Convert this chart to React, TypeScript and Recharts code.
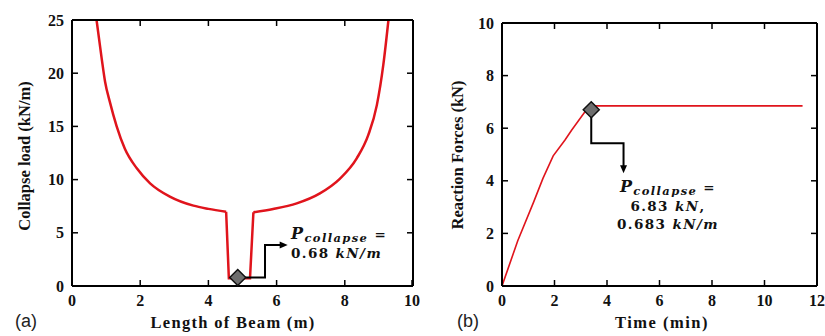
import React from 'react';
import { ComposedChart, Line, XAxis, YAxis, ReferenceDot } from 'recharts';

// (a) collapse load along the beam: left branch, the dip at mid-span, right branch
const leftBranchX = [0.72, 0.87, 0.97, 1.11, 1.31, 1.55, 1.9, 2.29, 2.87, 3.56, 4.0, 4.52];
const leftBranchY = [25, 21.4, 19.2, 17.3, 15.0, 12.9, 11.06, 9.65, 8.4, 7.55, 7.25, 6.98];
const dipX = [4.52, 4.6, 5.22, 5.32];
const dipY = [6.98, 0.72, 0.72, 6.93];
const rightBranchX = [5.32, 5.9, 6.59, 7.27, 7.86, 8.35, 8.69, 8.94, 9.13, 9.28];
const rightBranchY = [6.93, 7.24, 7.77, 8.71, 10.1, 12.0, 14.2, 17.0, 20.8, 25];
const beamArrowX = [4.86, 5.66, 5.66, 6.12];
const beamArrowY = [0.8, 0.8, 3.86, 3.86];
const beamMarker = { x: 4.86, y: 0.8 };

// (b) reaction force over time
const timeMin = [0, 0.6, 1.2, 1.56, 1.95, 2.4, 2.65, 3.16, 3.42, 11.45];
const reactionKN = [0, 1.72, 3.18, 4.09, 4.95, 5.55, 5.92, 6.62, 6.85, 6.85];
const timeArrowX = [3.4, 3.4, 4.63, 4.63];
const timeArrowY = [6.7, 5.43, 5.43, 4.55];
const timeMarker = { x: 3.4, y: 6.7 };

const beamTicksX = [0, 2, 4, 6, 8, 10];
const beamTicksY = [0, 5, 10, 15, 20, 25];
const timeTicksX = [0, 2, 4, 6, 8, 10, 12];
const forceTicksY = [0, 2, 4, 6, 8, 10];

const zip = (xs: number[], ys: number[]) => xs.map((x, i) => ({ x, y: ys[i] }));

const SERIF = '"Liberation Serif", "Times New Roman", serif';
const RED = '#e0141c';

const BottomTick = ({ x, y, payload }: any) => (
  <g>
    <line x1={x} y1={y} x2={x} y2={y - 6} stroke="#000" strokeWidth={1.5} />
    <text x={x} y={y + 20} textAnchor="middle" fontFamily={SERIF} fontWeight="bold" fontSize={16} fill="#111">
      {payload.value}
    </text>
  </g>
);

const LeftTick = ({ x, y, payload }: any) => (
  <g>
    <line x1={x} y1={y} x2={x + 6} y2={y} stroke="#000" strokeWidth={1.5} />
    <text x={x - 8} y={y + 5.5} textAnchor="end" fontFamily={SERIF} fontWeight="bold" fontSize={16} fill="#111">
      {payload.value}
    </text>
  </g>
);

const TopTick = ({ x, y }: any) => <line x1={x} y1={y} x2={x} y2={y + 6} stroke="#000" strokeWidth={1.5} />;
const RightTick = ({ x, y }: any) => <line x1={x} y1={y} x2={x - 6} y2={y} stroke="#000" strokeWidth={1.5} />;

const Diamond = ({ cx, cy }: any) => (
  <polygon
    points={`${cx},${cy - 8} ${cx + 8},${cy} ${cx},${cy + 8} ${cx - 8},${cy}`}
    fill="#6e6e6e"
    stroke="#111"
    strokeWidth={1.5}
  />
);

const ArrowRight = ({ cx, cy }: any) => (
  <polygon points={`${cx + 7},${cy} ${cx - 1},${cy - 3.5} ${cx - 1},${cy + 3.5}`} fill="#000" />
);

const ArrowDown = ({ cx, cy }: any) => (
  <polygon points={`${cx},${cy + 7} ${cx - 3.5},${cy - 1} ${cx + 3.5},${cy - 1}`} fill="#000" />
);

const axisLine = { stroke: '#000', strokeWidth: 2 };

const abs = (style: React.CSSProperties): React.CSSProperties => ({ position: 'absolute', ...style });

const labelFont: React.CSSProperties = {
  fontFamily: SERIF,
  fontWeight: 'bold',
  fontSize: 16.5,
  color: '#111',
  whiteSpace: 'nowrap',
};

const mathFont: React.CSSProperties = {
  fontFamily: '"DejaVu Serif", serif',
  fontWeight: 'bold',
  fontSize: 13.5,
  color: '#111',
  whiteSpace: 'nowrap',
  letterSpacing: 1.4,
  lineHeight: '18px',
};

function Pcollapse() {
  return (
    <span>
      <i style={{ fontSize: 16 }}>P</i>
      <i style={{ fontSize: 11.5, position: 'relative', top: 3 }}>collapse</i> =
    </span>
  );
}

export default function App() {
  const redLine = { dataKey: 'y', xAxisId: 'b', yAxisId: 'l', stroke: RED, dot: false, activeDot: false, isAnimationActive: false };

  return (
    <div style={{ position: 'absolute', left: 0, top: 0, width: 825, height: 336, background: '#fff', overflow: 'hidden' }}>
      <div style={abs({ left: 0, top: 0 })}>
        <ComposedChart width={420} height={336} margin={{ top: 19, right: 6, bottom: 49, left: 71 }}>
          <XAxis xAxisId="b" dataKey="x" type="number" domain={[0, 10]} ticks={beamTicksX} allowDataOverflow
            height={1} tickSize={0} tickMargin={0} tickLine={false} axisLine={axisLine} tick={(p: any) => <BottomTick {...p} />} />
          <XAxis xAxisId="t" orientation="top" dataKey="x" type="number" domain={[0, 10]} ticks={beamTicksX.slice(1, -1)} allowDataOverflow
            height={1} tickSize={0} tickMargin={0} tickLine={false} axisLine={axisLine} tick={(p: any) => <TopTick {...p} />} />
          <YAxis yAxisId="l" type="number" domain={[0, 25]} ticks={beamTicksY} allowDataOverflow
            width={1} tickSize={0} tickMargin={0} tickLine={false} axisLine={axisLine} tick={(p: any) => <LeftTick {...p} />} />
          <YAxis yAxisId="r" orientation="right" type="number" domain={[0, 25]} ticks={beamTicksY.slice(1, -1)} allowDataOverflow
            width={1} tickSize={0} tickMargin={0} tickLine={false} axisLine={axisLine} tick={(p: any) => <RightTick {...p} />} />
          <Line {...redLine} data={zip(leftBranchX, leftBranchY)} type="monotoneX" strokeWidth={2.5} />
          <Line {...redLine} data={zip(dipX, dipY)} type="linear" strokeWidth={2.5} />
          <Line {...redLine} data={zip(rightBranchX, rightBranchY)} type="monotoneX" strokeWidth={2.5} />
          <Line data={zip(beamArrowX, beamArrowY)} dataKey="y" xAxisId="b" yAxisId="l" type="linear" stroke="#000" strokeWidth={2}
            dot={false} activeDot={false} isAnimationActive={false} />
          <ReferenceDot xAxisId="b" yAxisId="l" x={beamArrowX[3]} y={beamArrowY[3]} ifOverflow="visible" shape={(p: any) => <ArrowRight {...p} />} />
          <ReferenceDot xAxisId="b" yAxisId="l" x={beamMarker.x} y={beamMarker.y} ifOverflow="visible" shape={(p: any) => <Diamond {...p} />} />
        </ComposedChart>
      </div>

      <div style={abs({ left: 420, top: 0 })}>
        <ComposedChart width={405} height={336} margin={{ top: 22, right: 7, bottom: 49, left: 81 }}>
          <XAxis xAxisId="b" dataKey="x" type="number" domain={[0, 12]} ticks={timeTicksX} allowDataOverflow
            height={1} tickSize={0} tickMargin={0} tickLine={false} axisLine={axisLine} tick={(p: any) => <BottomTick {...p} />} />
          <XAxis xAxisId="t" orientation="top" dataKey="x" type="number" domain={[0, 12]} ticks={timeTicksX.slice(1, -1)} allowDataOverflow
            height={1} tickSize={0} tickMargin={0} tickLine={false} axisLine={axisLine} tick={(p: any) => <TopTick {...p} />} />
          <YAxis yAxisId="l" type="number" domain={[0, 10]} ticks={forceTicksY} allowDataOverflow
            width={1} tickSize={0} tickMargin={0} tickLine={false} axisLine={axisLine} tick={(p: any) => <LeftTick {...p} />} />
          <YAxis yAxisId="r" orientation="right" type="number" domain={[0, 10]} ticks={forceTicksY.slice(1, -1)} allowDataOverflow
            width={1} tickSize={0} tickMargin={0} tickLine={false} axisLine={axisLine} tick={(p: any) => <RightTick {...p} />} />
          <Line {...redLine} data={zip(timeMin, reactionKN)} type="linear" strokeWidth={1.6} />
          <Line data={zip(timeArrowX, timeArrowY)} dataKey="y" xAxisId="b" yAxisId="l" type="linear" stroke="#000" strokeWidth={2}
            dot={false} activeDot={false} isAnimationActive={false} />
          <ReferenceDot xAxisId="b" yAxisId="l" x={timeArrowX[3]} y={timeArrowY[3]} ifOverflow="visible" shape={(p: any) => <ArrowDown {...p} />} />
          <ReferenceDot xAxisId="b" yAxisId="l" x={timeMarker.x} y={timeMarker.y} ifOverflow="visible" shape={(p: any) => <Diamond {...p} />} />
        </ComposedChart>
      </div>

      {/* annotations */}
      <div style={abs({ left: 291, top: 225, ...mathFont })}>
        <div><Pcollapse /></div>
        <div>0.68 <i>kN/m</i></div>
      </div>
      <div style={abs({ left: 603, top: 178, width: 130, textAlign: 'center', ...mathFont })}>
        <div><Pcollapse /></div>
        <div>6.83 <i>kN</i>,</div>
        <div>0.683 <i>kN/m</i></div>
      </div>

      {/* axis titles */}
      <div style={abs({ left: 233, top: 323, transform: 'translate(-50%, -50%)', letterSpacing: 1.3, ...labelFont })}>Length of Beam (m)</div>
      <div style={abs({ left: 662, top: 323, transform: 'translate(-50%, -50%)', letterSpacing: 1.5, ...labelFont })}>Time (min)</div>
      <div style={abs({ left: 25, top: 156, transform: 'translate(-50%, -50%) rotate(-90deg)', ...labelFont })}>Collapse load (kN/m)</div>
      <div style={abs({ left: 458, top: 155, transform: 'translate(-50%, -50%) rotate(-90deg)', ...labelFont })}>Reaction Forces (kN)</div>

      <div style={abs({ left: 15, top: 311, fontFamily: '"Liberation Sans", Arial, sans-serif', fontSize: 18, color: '#222' })}>(a)</div>
      <div style={abs({ left: 457, top: 311, fontFamily: '"Liberation Sans", Arial, sans-serif', fontSize: 18, color: '#222' })}>(b)</div>
    </div>
  );
}
